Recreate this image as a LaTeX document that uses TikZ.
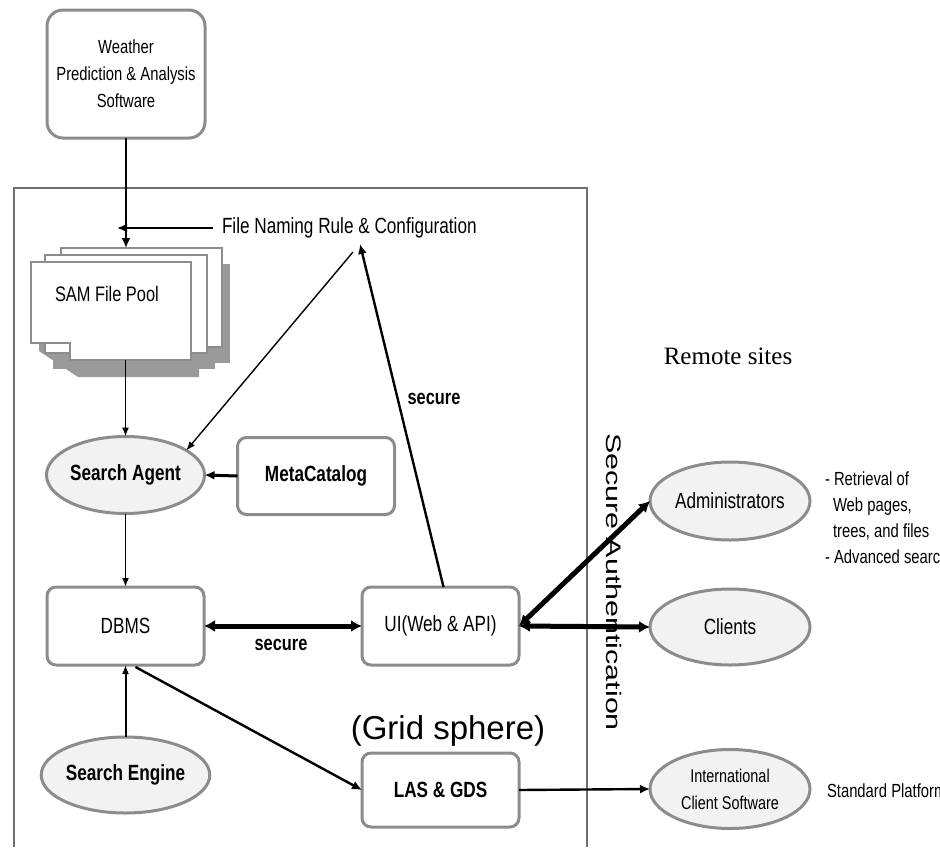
\documentclass[tikz,border=0pt]{standalone}
\usepackage{fontspec}
\usepackage{graphicx}
\setmainfont{Liberation Sans}
\newfontfamily\nar[FakeStretch=0.78]{Liberation Sans}
\newfontfamily\serifface{Liberation Serif}
\usetikzlibrary{arrows.meta,shapes.geometric,calc}

\definecolor{boxgray}{HTML}{8C8C8C}
\definecolor{shadowgray}{HTML}{9A9A9A}
\definecolor{fillgray}{HTML}{F2F2F2}
\definecolor{framegray}{HTML}{707070}

\tikzset{
  every node/.style={inner sep=0pt, outer sep=0pt},
  box/.style={draw=boxgray, line width=3pt, rounded corners=9pt, fill=white,
    minimum width=157pt, minimum height=78pt, align=center,
    font=\nar\fontsize{22}{27}\selectfont},
  oval/.style={ellipse, draw=boxgray, line width=3pt, fill=fillgray,
    minimum width=158pt, minimum height=77pt, align=center,
    font=\nar\fontsize{22}{27}\selectfont},
  page/.style={fill=white, draw=boxgray, line width=2pt},
  lbl/.style={font=\nar\fontsize{19}{25}\selectfont},
  thinlink/.style={line width=1.4pt, -{Latex[length=9pt,width=7pt]}},
  medlink/.style={line width=2.4pt, -{Latex[length=10pt,width=9pt]}},
  heavylink/.style={line width=5pt, {Latex[length=11pt,width=12pt]}-{Latex[length=11pt,width=12pt]}},
}

\begin{document}
\begin{tikzpicture}[x=1pt,y=-1pt]
\useasboundingbox (0,0) rectangle (940,847);

% system frame, open at the bottom
\draw[framegray, line width=1.3pt] (14,847) -- (14,188) -- (587,188) -- (587,847);

% stacked file pool pages with drop shadows
\fill[shadowgray] (69,264) rectangle (230,363);
\fill[shadowgray] (53,271) rectangle (215,369);
\fill[shadowgray] (39,270) -- (199,270) -- (199,377) -- (78,377) -- (39,351) -- cycle;
\draw[page] (61,248) rectangle (222,347);
\draw[page] (45,255) rectangle (207,353);
\draw[page] (31,262) -- (191,262) -- (191,360) -- (70,360) -- (70,343) -- (31,343) -- cycle;
\node[minimum width=161pt, minimum height=99pt] (samback) at (141.5,297.5) {};
\node[minimum width=160pt, minimum height=98pt] (sam) at (111,311) {};
\node[anchor=west, font=\nar\fontsize{21}{25}\selectfont] (samlabel) at (55,294) {SAM File Pool};

% boxes
\node[box, minimum width=158pt, minimum height=128pt, rounded corners=16pt,
      font=\nar\fontsize{19}{27}\selectfont] (weather) at (126,74)
      {Weather\\Prediction \& Analysis\\Software};
\node[box, minimum height=77pt] (meta) at (316,476) {\bfseries MetaCatalog};
\node[box] (dbms) at (125.5,626) {DBMS};
\node[box] (ui) at (440.5,626) {UI(Web \& API)};
\node[box, minimum height=74pt] (las) at (440.5,790) {\bfseries LAS \& GDS};

% ellipses
\node[oval] (agent) at (125.5,475) {\bfseries Search Agent};
\node[oval, minimum height=76pt] (engine) at (125.5,775) {\bfseries Search Engine};
\node[oval, minimum width=160pt, minimum height=78pt] (admin) at (730,501) {Administrators};
\node[oval, minimum width=160pt, minimum height=76pt] (clients) at (730,627) {Clients};
\node[oval, minimum width=160pt, minimum height=79pt,
      font=\nar\fontsize{18.5}{27}\selectfont] (intl) at (730,789)
      {International\\Client Software};

% labels
\node[anchor=west, font=\nar\fontsize{22}{26}\selectfont] (cfg) at (222,228)
      {File Naming Rule \& Configuration};
\coordinate (cfgtip) at (360,244);
\coordinate (cfgfoot) at (353,252);
\node[font=\nar\bfseries\fontsize{21}{25}\selectfont] (sec1) at (281,645) {secure};
\node[font=\nar\bfseries\fontsize{21}{25}\selectfont] (sec2) at (434,399) {secure};
\node[font=\fontsize{33}{38}\selectfont] (grid) at (448,731) {(Grid sphere)};
\node[font=\serifface\fontsize{25}{30}\selectfont] (remote) at (728,356) {Remote sites};
\node[rotate=-90, font=\fontsize{21}{25}\selectfont] (auth) at (614,582)
      {\scalebox{1.45}[1]{Secure Authentication}};
\node[lbl, anchor=base west] (n1) at (825,485) {- Retrieval of};
\node[lbl, anchor=base west] (n2) at (833,511) {Web pages,};
\node[lbl, anchor=base west] (n3) at (833,537) {trees, and files};
\node[lbl, anchor=base west] (n4) at (825,563) {- Advanced search};
\node[lbl, anchor=base west] (std) at (827,797) {Standard Platform};

% connectors
\draw[medlink] (weather.south) -- (weather.south |- samback.north);
\draw[medlink] ($(cfg.west)+(-9,0)$) -- ($(weather.south |- cfg.west)+(-9,0)$);
\draw[thinlink] (agent.north |- sam.south) -- (agent.north);
\draw[thinlink] (cfgfoot) -- (agent.22);
\draw[medlink, line width=3pt] (meta.west) -- (agent.east);
\draw[thinlink, line width=1.8pt] (agent.south) -- (dbms.north);
\draw[heavylink] (dbms.east) -- (ui.west);
\draw[medlink] ($(ui.north)+(3,0)$) -- (cfgtip);
\draw[medlink] ($(dbms.south)+(10,2)$) -- (las.west);
\draw[thinlink, line width=2pt] (engine.north) -- (dbms.south);
\draw[medlink] (las.east) -- (intl.west);
\draw[heavylink] (ui.east) -- (admin.west);
\draw[heavylink] (ui.east) -- (clients.west);
\end{tikzpicture}
\end{document}
